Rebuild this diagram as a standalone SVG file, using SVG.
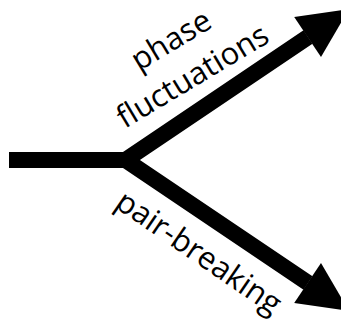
<svg xmlns="http://www.w3.org/2000/svg" width="341" height="321" viewBox="0 0 341 321">
<style>
.ln{fill:none;stroke:#000;stroke-width:16;stroke-linejoin:miter;stroke-linecap:butt}
.hd{fill:#000}
.lb{font-family:"Open Sans","DejaVu Sans",sans-serif;font-size:31px;fill:#000;text-anchor:middle}
</style>
<rect width="341" height="321" fill="#fff"/>
<g id="connectors">
<path class="ln" d="M9,160 H125.6 L308,37"/>
<path class="ln" d="M9,160 H125.6 L308,283"/>
<polygon class="hd" points="349,9 294.2,17.1 321,56.9"/>
<polygon class="hd" points="349,311 321,263.1 294.2,302.9"/>
</g>
<g id="label-phase" transform="translate(198,85) rotate(-31)">
<text class="lb" x="0" y="-42">phase</text>
<text class="lb" x="0" y="0">fluctuations</text>
</g>
<g id="label-pair" transform="translate(193,261) rotate(34.5)">
<text class="lb" x="0" y="0">pair-breaking</text>
</g>
</svg>
